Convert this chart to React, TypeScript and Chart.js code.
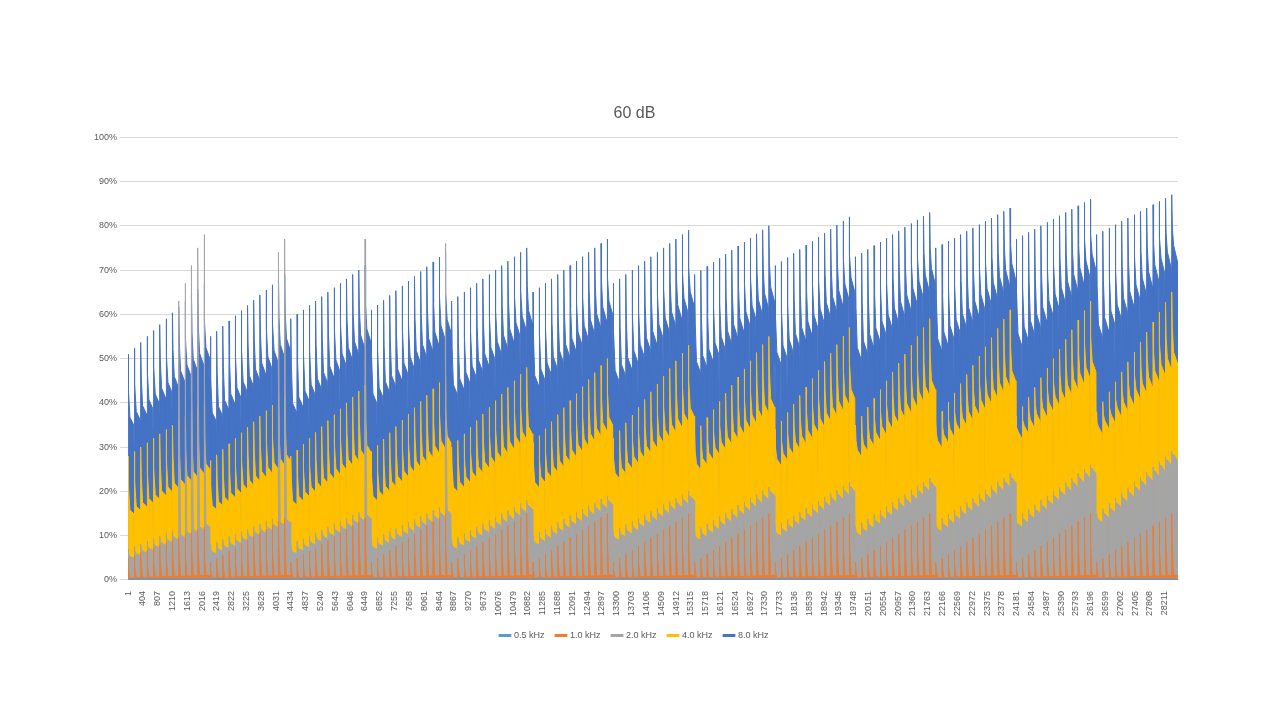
import React, { useEffect, useRef } from "react";
import { Chart, registerables } from "chart.js";
Chart.register(...registerables);

const seriesNames = ["0.5 kHz", "1.0 kHz", "2.0 kHz", "4.0 kHz", "8.0 kHz"];
const seriesColors = ["#5B9BD5", "#ED7D31", "#A5A5A5", "#FFC000", "#4472C4"];
const tickLabels = [1,404,807,1210,1613,2016,2419,2822,3225,3628,4031,4434,4837,5240,5643,6046,6449,6852,7255,7658,8061,8464,8867,9270,9673,10076,10479,10882,11285,11688,12091,12494,12897,13300,13703,14106,14509,14912,15315,15718,16121,16524,16927,17330,17733,18136,18539,18942,19345,19748,20151,20554,20957,21360,21763,22166,22569,22972,23375,23778,24181,24584,24987,25390,25793,26196,26599,27002,27405,27808,28211];
const groupStarts = [1,2242,4429,6616,8803,11017,13204,15418,17605,19792,21979,24166,26353];
const lastX = 28570;
const spikesPerGroup = 13;

const bluePeakStart = [51,55,59,61,63,65,67,69,71,73,75,77,78];
const bluePeakEnd = [67,69,71,74,75,77,79,80,82,83,84,86,87];
const blueBandStart = [35,36,38,40,42,44,45,47,49,50,52,53,55];
const blueBandEnd = [50,52,54,56,58,60,62,63,65,67,68,70,72];
const blueDipStart = [27,28,30,31,32,33,35,36,37,38,39,40,41];
const blueDipEnd = [40,42,43,45,46,47,48,49,50,51,52,53,54];

const yellowPeakStart = [28,27,28,29,30,31,32,33,34,35,36,37,38];
const yellowPeakEnd = [40,42,44,46,48,50,53,55,57,59,61,63,65];
const yellowBandStart = [15,16,17,18,20,21,23,25,26,28,30,32,33];
const yellowBandEnd = [25,27,29,31,33,35,37,39,41,43,45,47,49];
const yellowDipStart = [5,6,7,8,8,9,10,10,11,12,13,13,14];
const yellowDipEnd = [12,13,14,15,17,18,19,20,21,22,23,25,26];

const grayPeakStart = [7,8,8,9,9,10,11,11,12,12,13,14,15];
const grayPeakEnd = [14,15,16,17,18,19,20,21,22,23,24,26,29];
const grayBandStart = [5,6,6,7,7,8,9,9,10,10,11,12,13];
const grayBandEnd = [12,13,14,15,16,17,18,19,20,21,22,24,27];
const grayDipStart = [1,1,1,1,1,1,1,1,1,1,1,1,1];
const grayDipEnd = [2,2,2,2,2,2,2,2,2,2,2,2,2];
const grayOutliers = [[0,8,63],[0,9,67],[0,10,71],[0,11,75],[0,12,78],[1,11,74],[1,12,77],[2,12,77],[3,12,76]];

const orangePeakStart = [5,4,4,4,4,4,4,4,4,4,4,4,4];
const orangePeakEnd = [12,14,14,15,15,15,15,15,15,15,15,15,15];
const orangeBandStart = [0.5,0.5,0.5,0.5,0.5,0.5,0.5,0.5,0.5,0.5,0.5,0.5,0.5];
const orangeBandEnd = [1,1,1,1,1,1,1,1,1,1,1,1,1];
const orangeDipStart = [0,0,0,0,0,0,0,0,0,0,0,0,0];
const orangeDipEnd = [0,0,0,0,0,0,0,0,0,0,0,0,0];

const lightPeak = [0.2,0.2,0.2,0.2,0.2,0.2,0.2,0.2,0.2,0.2,0.2,0.2,0.2];

function build(ps, pe, bs, be, ds, de, outliers = []) {
  const pts = [];
  for (let g = 0; g < groupStarts.length; g++) {
    const gs = groupStarts[g];
    const ge = g + 1 < groupStarts.length ? groupStarts[g + 1] : lastX;
    const w = (ge - gs) / spikesPerGroup;
    for (let s = 0; s < spikesPerGroup; s++) {
      const f = s / (spikesPerGroup - 1);
      let P = ps[g] + (pe[g] - ps[g]) * f;
      const B = bs[g] + (be[g] - bs[g]) * f;
      const D = ds[g] + (de[g] - ds[g]) * f;
      const o = outliers.find((q) => q[0] === g && q[1] === s);
      if (o) P = o[2];
      const x0 = gs + s * w;
      pts.push({ x: x0, y: D / 100 });
      pts.push({ x: x0 + w * 0.02, y: P / 100 });
      pts.push({ x: x0 + w * 0.1, y: (P + B) / 200 });
      pts.push({ x: x0 + w * 0.3, y: (B * 1.05) / 100 });
      pts.push({ x: x0 + w * 0.9, y: B / 100 });
      pts.push({ x: x0 + w * 0.97, y: D / 100 });
    }
  }
  pts.push({ x: lastX, y: pts[pts.length - 1].y });
  return pts;
}

export default function App() {
  const ref = useRef(null);
  useEffect(() => {
    const data = [
      build(lightPeak, lightPeak, lightPeak, lightPeak, lightPeak, lightPeak),
      build(orangePeakStart, orangePeakEnd, orangeBandStart, orangeBandEnd, orangeDipStart, orangeDipEnd),
      build(grayPeakStart, grayPeakEnd, grayBandStart, grayBandEnd, grayDipStart, grayDipEnd, grayOutliers),
      build(yellowPeakStart, yellowPeakEnd, yellowBandStart, yellowBandEnd, yellowDipStart, yellowDipEnd),
      build(bluePeakStart, bluePeakEnd, blueBandStart, blueBandEnd, blueDipStart, blueDipEnd),
    ];
    const chart = new Chart(ref.current, {
      type: "line",
      data: {
        datasets: seriesNames.map((n, i) => ({
          label: n,
          data: data[i],
          borderColor: seriesColors[i],
          backgroundColor: seriesColors[i],
          borderWidth: 1,
          pointRadius: 0,
          fill: "origin",
          tension: 0,
          order: i + 1,
        })),
      },
      options: {
        animation: false,
        responsive: false,
        layout: { padding: { left: 91, right: 102, top: 104, bottom: 70 } },
        plugins: {
          title: { display: true, text: "60 dB", color: "#595959", font: { family: "Liberation Sans", size: 16, weight: "normal" }, padding: { bottom: 14 } },
          legend: {
            position: "bottom",
            labels: {
              usePointStyle: true,
              pointStyle: "line",
              boxWidth: 22,
              color: "#595959",
              font: { family: "Liberation Sans", size: 9 },
              padding: 12,
              generateLabels: (c) =>
                c.data.datasets.map((d, i) => ({
                  text: d.label,
                  fillStyle: seriesColors[i],
                  strokeStyle: seriesColors[i],
                  fontColor: "#595959",
                  lineWidth: 3,
                  pointStyle: "line",
                  hidden: false,
                  datasetIndex: i,
                })),
            },
          },
          tooltip: { enabled: false },
        },
        scales: {
          x: {
            type: "linear",
            min: 1,
            max: lastX,
            grid: { display: false },
            border: { color: "#D9D9D9" },
            afterBuildTicks: (ax) => { ax.ticks = tickLabels.map((v) => ({ value: v })); },
            ticks: { autoSkip: false, maxRotation: 90, minRotation: 90, color: "#595959", font: { family: "Liberation Sans", size: 9 }, callback: (v) => String(v) },
          },
          y: {
            min: 0,
            max: 1,
            grid: { color: "#D9D9D9" },
            border: { display: false },
            ticks: { stepSize: 0.1, color: "#595959", font: { family: "Liberation Sans", size: 9 }, callback: (v) => Math.round(v * 100) + "%" },
          },
        },
      },
    });
    return () => chart.destroy();
  }, []);
  return (
    <div style={{ position: "fixed", left: 0, top: 0, width: 1280, height: 720, background: "#fff" }}>
      <canvas ref={ref} width={1280} height={720} />
    </div>
  );
}
